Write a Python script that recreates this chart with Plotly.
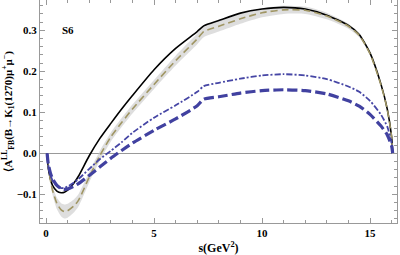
import plotly.graph_objects as go

s = [0.05, 0.1, 0.2, 0.3, 0.5, 0.7, 0.85, 1.0, 1.3, 1.5, 2.0, 2.5, 3.0, 3.5, 4.0, 5.0, 6.0, 7.0, 7.3,
     8.0, 9.0, 10.0, 11.0, 12.0, 13.0, 14.0, 14.5, 15.0, 15.5, 15.8, 16.0, 16.05]

black_solid = [0, -0.035, -0.062, -0.078, -0.092, -0.096, -0.095, -0.09, -0.072, -0.056, -0.006, 0.037,
               0.073, 0.108, 0.141, 0.204, 0.256, 0.297, 0.311, 0.324, 0.342, 0.352, 0.356, 0.352, 0.337,
               0.312, 0.29, 0.245, 0.17, 0.108, 0.04, 0]

olive_dashed = [0, -0.03, -0.065, -0.09, -0.122, -0.138, -0.142, -0.14, -0.128, -0.115, -0.058, -0.005,
                0.04, 0.075, 0.108, 0.168, 0.226, 0.279, 0.297, 0.31, 0.328, 0.343, 0.35, 0.349, 0.335,
                0.31, 0.288, 0.243, 0.168, 0.107, 0.04, 0]

band_halfwidth = [0, 0.004, 0.008, 0.011, 0.014, 0.016, 0.017, 0.017, 0.016, 0.015, 0.013, 0.012, 0.011,
                  0.011, 0.011, 0.011, 0.012, 0.013, 0.014, 0.013, 0.012, 0.011, 0.01, 0.009, 0.008,
                  0.006, 0.005, 0.004, 0.003, 0.002, 0.001, 0]

blue_dotdash = [0, -0.028, -0.052, -0.066, -0.08, -0.085, -0.084, -0.081, -0.071, -0.063, -0.038, -0.014,
                0.006, 0.027, 0.05, 0.087, 0.117, 0.15, 0.164, 0.172, 0.182, 0.19, 0.193, 0.19, 0.181,
                0.163, 0.15, 0.128, 0.095, 0.065, 0.025, 0]

blue_dashed = [0, -0.025, -0.048, -0.062, -0.078, -0.086, -0.088, -0.087, -0.08, -0.074, -0.054, -0.033,
               -0.012, 0.007, 0.025, 0.056, 0.084, 0.116, 0.132, 0.138, 0.147, 0.153, 0.155, 0.153, 0.145,
               0.128, 0.115, 0.095, 0.067, 0.045, 0.018, 0]

x_ticks = [0, 5, 10, 15]
y_ticks = [-0.1, 0.0, 0.1, 0.2, 0.3]
y_ticklabels = ["\u22120.1", "0.0", "0.1", "0.2", "0.3"]

band_hi = [c + w for c, w in zip(olive_dashed, band_halfwidth)]
band_lo = [c - w for c, w in zip(olive_dashed, band_halfwidth)]

SMOOTH = 0.6
fig = go.Figure()
fig.add_trace(go.Scatter(x=s, y=band_hi, mode="lines", line=dict(width=0, shape="spline", smoothing=SMOOTH),
                         hoverinfo="skip", showlegend=False))
fig.add_trace(go.Scatter(x=s, y=band_lo, mode="lines", line=dict(width=0, shape="spline", smoothing=SMOOTH),
                         fill="tonexty", fillcolor="rgba(200,200,200,0.6)", hoverinfo="skip", showlegend=False))
fig.add_trace(go.Scatter(x=s, y=black_solid, mode="lines",
                         line=dict(color="black", width=1.6, shape="spline", smoothing=SMOOTH), showlegend=False))
fig.add_trace(go.Scatter(x=s, y=olive_dashed, mode="lines",
                         line=dict(color="rgb(160,150,100)", width=1.6, dash="7px,4px", shape="spline", smoothing=SMOOTH),
                         showlegend=False))
fig.add_trace(go.Scatter(x=s, y=blue_dotdash, mode="lines",
                         line=dict(color="rgb(70,70,165)", width=1.8, dash="6px,2px,2px,2px", shape="spline", smoothing=SMOOTH),
                         showlegend=False))
fig.add_trace(go.Scatter(x=s, y=blue_dashed, mode="lines",
                         line=dict(color="rgb(65,65,160)", width=3.2, dash="10px,4px", shape="spline", smoothing=SMOOTH),
                         showlegend=False))

tickfont = dict(family="Liberation Serif", size=11, color="black", weight="bold")
axis_common = dict(showgrid=False, showline=True, linecolor="#999999", linewidth=1, mirror="allticks",
                   ticks="inside", ticklen=5, tickcolor="#999999", tickwidth=1, tickfont=tickfont,
                   automargin=False)

fig.update_xaxes(range=[-0.28, 16.25], tickvals=x_ticks, ticktext=[str(v) for v in x_ticks],
                 zeroline=False,
                 minor=dict(ticks="inside", ticklen=3, tickcolor="#999999", dtick=1, tick0=0),
                 title=dict(text="s(GeV<sup>2</sup>)", font=dict(family="Liberation Serif", size=12, color="black", weight="bold"),
                            standoff=5),
                 **axis_common)
fig.update_yaxes(range=[-0.170, 0.374], tickvals=y_ticks, ticktext=y_ticklabels,
                 zeroline=True, zerolinecolor="#999999", zerolinewidth=1,
                 minor=dict(ticks="inside", ticklen=3, tickcolor="#999999", dtick=0.02, tick0=0),
                 title=dict(text="\u27e8A<sup>LL</sup><sub>FB</sub>(B\u2192K<sub>1</sub>(1270)\u03bc<sup>+</sup>\u03bc<sup>\u2212</sup>)",
                            font=dict(family="Liberation Serif", size=11, color="black", weight="bold"), standoff=2),
                 **axis_common)

fig.add_annotation(x=1.0, y=0.3, text="S6", showarrow=False, xref="x", yref="y",
                   font=dict(family="Liberation Serif", size=11, color="black", weight="bold"))

fig.update_layout(width=400, height=255, margin=dict(l=40, r=3, t=0, b=32),
                  plot_bgcolor="white", paper_bgcolor="white")

fig.write_html("out.html", config={"displayModeBar": False},
               post_script="document.body.style.margin='0';document.body.style.overflow='hidden';")
